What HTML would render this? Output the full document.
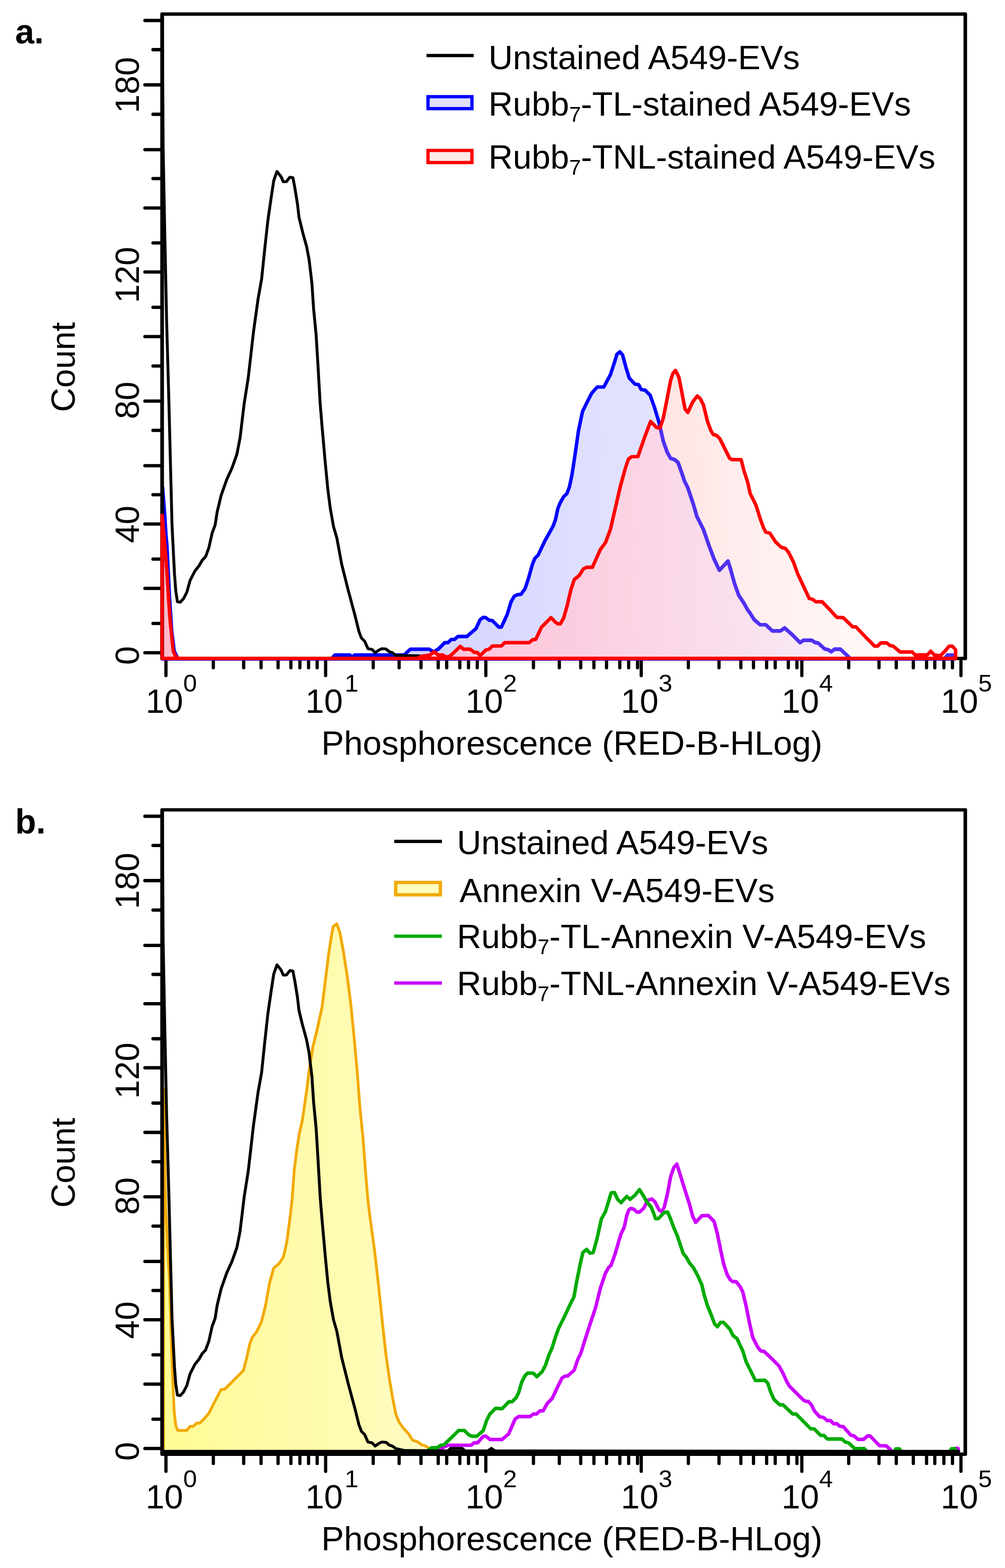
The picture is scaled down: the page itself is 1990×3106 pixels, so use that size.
<!DOCTYPE html>
<html lang="en"><head><meta charset="utf-8"><title>Flow cytometry histograms</title>
<style>html,body{margin:0;padding:0;background:#fff}svg{display:block}text{font-family:'Liberation Sans', sans-serif;fill:#000}</style>
</head><body>
<svg width="1990" height="3106" viewBox="0 0 1990 3106">
<defs>
<linearGradient id="gredw" gradientUnits="userSpaceOnUse" x1="320" y1="0" x2="1900" y2="0"><stop offset="0.0000" stop-color="#ffb9b9"/><stop offset="0.3671" stop-color="#ffcdd0"/><stop offset="0.5570" stop-color="#ffdcdc"/><stop offset="0.6835" stop-color="#ffeae8"/><stop offset="0.7152" stop-color="#ffecec"/><stop offset="0.8418" stop-color="#fff6f4"/><stop offset="0.9367" stop-color="#fffafa"/><stop offset="1.0000" stop-color="#fffdfd"/></linearGradient>
<linearGradient id="gredo" gradientUnits="userSpaceOnUse" x1="320" y1="0" x2="1900" y2="0"><stop offset="0.0000" stop-color="#ffb9c8"/><stop offset="0.3671" stop-color="#fdc4d8"/><stop offset="0.4304" stop-color="#fec8dc"/><stop offset="0.5152" stop-color="#fbcde0"/><stop offset="0.5848" stop-color="#fbd4e4"/><stop offset="0.6835" stop-color="#fadcea"/><stop offset="0.7468" stop-color="#f9e2f0"/><stop offset="0.8418" stop-color="#f8ecf8"/><stop offset="1.0000" stop-color="#faf4fc"/></linearGradient>
<linearGradient id="gblue" gradientUnits="userSpaceOnUse" x1="320" y1="0" x2="1900" y2="0"><stop offset="0.0000" stop-color="#c8c8ff"/><stop offset="0.3038" stop-color="#d3d3ff"/><stop offset="0.4304" stop-color="#d9d9ff"/><stop offset="0.5570" stop-color="#e0e0ff"/><stop offset="0.6835" stop-color="#e6e6ff"/><stop offset="0.8608" stop-color="#eeeeff"/><stop offset="1.0000" stop-color="#f4f4ff"/></linearGradient>
<linearGradient id="gyel" gradientUnits="userSpaceOnUse" x1="320" y1="0" x2="860" y2="0"><stop offset="0.0000" stop-color="#fffc92"/><stop offset="0.0556" stop-color="#fffc96"/><stop offset="0.3333" stop-color="#fffba4"/><stop offset="0.7037" stop-color="#fffbb2"/><stop offset="1.0000" stop-color="#fffcc8"/></linearGradient>
</defs>
<rect width="1990" height="3106" fill="#fff"/>
<g id="panel-a">
<g stroke="#000" stroke-linecap="round" fill="none">
<line x1="287" y1="40.6" x2="321.0" y2="40.6" stroke-width="6.6"/>
<line x1="287" y1="168.1" x2="321.0" y2="168.1" stroke-width="6.6"/>
<line x1="287" y1="296.5" x2="321.0" y2="296.5" stroke-width="6.6"/>
<line x1="287" y1="412.0" x2="321.0" y2="412.0" stroke-width="6.6"/>
<line x1="287" y1="538.8" x2="321.0" y2="538.8" stroke-width="6.6"/>
<line x1="287" y1="666.8" x2="321.0" y2="666.8" stroke-width="6.6"/>
<line x1="287" y1="794.5" x2="321.0" y2="794.5" stroke-width="6.6"/>
<line x1="287" y1="922.5" x2="321.0" y2="922.5" stroke-width="6.6"/>
<line x1="287" y1="1038.0" x2="321.0" y2="1038.0" stroke-width="6.6"/>
<line x1="287" y1="1165.5" x2="321.0" y2="1165.5" stroke-width="6.6"/>
<line x1="287" y1="1293.0" x2="321.0" y2="1293.0" stroke-width="6.6"/>
<line x1="303" y1="98.4" x2="321.0" y2="98.4" stroke-width="6.6"/>
<line x1="303" y1="226.4" x2="321.0" y2="226.4" stroke-width="6.6"/>
<line x1="303" y1="353.8" x2="321.0" y2="353.8" stroke-width="6.6"/>
<line x1="303" y1="481.2" x2="321.0" y2="481.2" stroke-width="6.6"/>
<line x1="303" y1="608.8" x2="321.0" y2="608.8" stroke-width="6.6"/>
<line x1="303" y1="725.0" x2="321.0" y2="725.0" stroke-width="6.6"/>
<line x1="303" y1="852.5" x2="321.0" y2="852.5" stroke-width="6.6"/>
<line x1="303" y1="980.0" x2="321.0" y2="980.0" stroke-width="6.6"/>
<line x1="303" y1="1107.5" x2="321.0" y2="1107.5" stroke-width="6.6"/>
<line x1="303" y1="1235.0" x2="321.0" y2="1235.0" stroke-width="6.6"/>
<line x1="328.6" y1="1304.3" x2="328.6" y2="1338.3" stroke-width="6.4"/>
<line x1="644.8" y1="1304.3" x2="644.8" y2="1338.3" stroke-width="6.4"/>
<line x1="962" y1="1304.3" x2="962" y2="1338.3" stroke-width="6.4"/>
<line x1="1269.7" y1="1304.3" x2="1269.7" y2="1338.3" stroke-width="6.4"/>
<line x1="1587.7" y1="1304.3" x2="1587.7" y2="1338.3" stroke-width="6.4"/>
<line x1="1902.8" y1="1304.3" x2="1902.8" y2="1338.3" stroke-width="6.4"/>
<line x1="422.4" y1="1304.3" x2="422.4" y2="1322.8" stroke-width="6.4"/>
<line x1="482.5" y1="1304.3" x2="482.5" y2="1322.8" stroke-width="6.4"/>
<line x1="516.9" y1="1304.3" x2="516.9" y2="1322.8" stroke-width="6.4"/>
<line x1="550.6" y1="1304.3" x2="550.6" y2="1322.8" stroke-width="6.4"/>
<line x1="576" y1="1304.3" x2="576" y2="1322.8" stroke-width="6.4"/>
<line x1="593.8" y1="1304.3" x2="593.8" y2="1322.8" stroke-width="6.4"/>
<line x1="611" y1="1304.3" x2="611" y2="1322.8" stroke-width="6.4"/>
<line x1="628" y1="1304.3" x2="628" y2="1322.8" stroke-width="6.4"/>
<line x1="739" y1="1304.3" x2="739" y2="1322.8" stroke-width="6.4"/>
<line x1="790.3" y1="1304.3" x2="790.3" y2="1322.8" stroke-width="6.4"/>
<line x1="833.6" y1="1304.3" x2="833.6" y2="1322.8" stroke-width="6.4"/>
<line x1="867.7" y1="1304.3" x2="867.7" y2="1322.8" stroke-width="6.4"/>
<line x1="884.5" y1="1304.3" x2="884.5" y2="1322.8" stroke-width="6.4"/>
<line x1="910.5" y1="1304.3" x2="910.5" y2="1322.8" stroke-width="6.4"/>
<line x1="927.7" y1="1304.3" x2="927.7" y2="1322.8" stroke-width="6.4"/>
<line x1="945" y1="1304.3" x2="945" y2="1322.8" stroke-width="6.4"/>
<line x1="1056.3" y1="1304.3" x2="1056.3" y2="1322.8" stroke-width="6.4"/>
<line x1="1107.5" y1="1304.3" x2="1107.5" y2="1322.8" stroke-width="6.4"/>
<line x1="1149.9" y1="1304.3" x2="1149.9" y2="1322.8" stroke-width="6.4"/>
<line x1="1176" y1="1304.3" x2="1176" y2="1322.8" stroke-width="6.4"/>
<line x1="1201" y1="1304.3" x2="1201" y2="1322.8" stroke-width="6.4"/>
<line x1="1227.3" y1="1304.3" x2="1227.3" y2="1322.8" stroke-width="6.4"/>
<line x1="1244.8" y1="1304.3" x2="1244.8" y2="1322.8" stroke-width="6.4"/>
<line x1="1262.4" y1="1304.3" x2="1262.4" y2="1322.8" stroke-width="6.4"/>
<line x1="1363" y1="1304.3" x2="1363" y2="1322.8" stroke-width="6.4"/>
<line x1="1423.7" y1="1304.3" x2="1423.7" y2="1322.8" stroke-width="6.4"/>
<line x1="1467" y1="1304.3" x2="1467" y2="1322.8" stroke-width="6.4"/>
<line x1="1492" y1="1304.3" x2="1492" y2="1322.8" stroke-width="6.4"/>
<line x1="1518" y1="1304.3" x2="1518" y2="1322.8" stroke-width="6.4"/>
<line x1="1535" y1="1304.3" x2="1535" y2="1322.8" stroke-width="6.4"/>
<line x1="1561" y1="1304.3" x2="1561" y2="1322.8" stroke-width="6.4"/>
<line x1="1578" y1="1304.3" x2="1578" y2="1322.8" stroke-width="6.4"/>
<line x1="1680.5" y1="1304.3" x2="1680.5" y2="1322.8" stroke-width="6.4"/>
<line x1="1740.5" y1="1304.3" x2="1740.5" y2="1322.8" stroke-width="6.4"/>
<line x1="1774.7" y1="1304.3" x2="1774.7" y2="1322.8" stroke-width="6.4"/>
<line x1="1808.5" y1="1304.3" x2="1808.5" y2="1322.8" stroke-width="6.4"/>
<line x1="1834.7" y1="1304.3" x2="1834.7" y2="1322.8" stroke-width="6.4"/>
<line x1="1851" y1="1304.3" x2="1851" y2="1322.8" stroke-width="6.4"/>
<line x1="1869" y1="1304.3" x2="1869" y2="1322.8" stroke-width="6.4"/>
<line x1="1886" y1="1304.3" x2="1886" y2="1322.8" stroke-width="6.4"/>
</g>
<clipPath id="cblue"><polygon points="321.0,1305.3 322.0,966.0 326.0,1018.0 328.6,1059.5 330.5,1080.0 335.5,1180.0 340.0,1250.0 345.0,1290.0 351.0,1302.0 355.0,1305.3 656.0,1305.3 663.0,1297.5 693.0,1297.5 697.0,1302.0 702.0,1297.5 800.0,1297.5 812.5,1286.0 849.8,1286.0 858.0,1291.0 867.7,1286.0 880.6,1273.0 887.0,1273.0 893.6,1266.6 900.0,1266.6 906.6,1260.8 924.5,1260.8 932.6,1253.6 942.3,1245.5 950.5,1227.7 957.0,1222.8 961.8,1223.4 968.3,1228.3 974.8,1229.3 981.3,1235.8 987.8,1242.3 992.7,1242.3 1004.0,1218.0 1012.0,1192.0 1018.6,1180.6 1025.0,1178.0 1031.6,1177.3 1039.7,1166.0 1046.2,1146.5 1054.4,1117.3 1059.2,1105.9 1065.7,1099.4 1078.7,1071.8 1095.0,1042.6 1099.8,1029.6 1104.7,1006.9 1109.5,995.5 1116.0,984.0 1122.5,977.7 1127.4,964.7 1132.3,942.0 1138.8,899.7 1145.3,854.3 1153.4,815.3 1163.0,795.8 1171.2,779.6 1182.6,766.6 1195.6,766.6 1208.6,742.3 1216.7,717.9 1221.6,701.7 1227.4,696.8 1232.9,703.3 1239.4,727.7 1245.9,748.8 1257.3,760.8 1264.6,761.8 1269.5,771.5 1277.6,773.0 1287.3,782.9 1295.5,805.6 1305.2,838.0 1313.3,873.8 1321.4,896.5 1327.9,907.9 1336.0,910.5 1342.5,916.0 1350.6,938.7 1355.5,953.3 1362.0,966.3 1373.4,1000.4 1379.9,1023.0 1392.9,1049.0 1404.2,1081.6 1414.0,1107.5 1424.4,1129.6 1441.6,1111.4 1446.4,1127.0 1454.5,1156.2 1462.7,1179.0 1472.4,1193.6 1480.5,1208.2 1485.4,1214.7 1493.5,1227.7 1504.9,1237.4 1516.2,1237.4 1529.2,1249.7 1545.5,1249.7 1553.6,1243.9 1566.6,1255.3 1584.4,1273.0 1590.9,1268.2 1607.0,1268.2 1613.6,1272.5 1620.0,1273.8 1633.0,1285.5 1639.6,1286.8 1646.0,1291.0 1652.6,1286.0 1664.0,1286.0 1680.0,1300.7 1684.0,1305.3 1870.0,1305.3 1876.0,1297.5 1887.0,1297.5 1891.0,1305.3"/></clipPath>
<clipPath id="cred"><polygon points="321.0,1304.3 321.0,1021.0 325.5,1070.0 330.0,1125.0 334.5,1195.0 337.0,1230.0 340.5,1265.0 343.2,1290.0 347.0,1299.0 353.0,1304.3 826.0,1304.3 835.2,1300.0 851.4,1297.5 859.5,1291.0 867.7,1297.5 877.4,1297.5 883.9,1302.0 892.0,1299.0 911.5,1280.3 918.0,1286.0 931.0,1286.0 939.0,1292.0 945.6,1292.6 950.5,1299.0 961.8,1287.7 968.3,1286.0 974.8,1279.6 992.7,1279.6 999.2,1273.0 1047.9,1273.0 1054.4,1267.3 1060.8,1266.6 1072.2,1242.3 1083.6,1231.0 1091.0,1223.4 1099.8,1232.5 1104.7,1235.8 1109.5,1235.8 1116.0,1224.4 1122.5,1201.7 1130.6,1167.6 1137.1,1148.0 1146.9,1140.0 1155.0,1127.0 1161.5,1123.8 1172.9,1123.8 1189.0,1088.0 1198.8,1075.0 1208.6,1049.0 1218.3,1006.9 1228.0,964.7 1237.8,929.0 1244.3,909.5 1250.8,904.6 1263.0,904.6 1276.0,867.3 1288.3,834.8 1300.3,847.0 1306.8,847.8 1313.3,828.3 1319.8,795.8 1327.9,753.6 1332.8,739.0 1337.7,734.0 1344.2,747.0 1350.6,779.6 1356.5,810.5 1362.0,817.0 1371.8,795.8 1380.5,784.5 1386.4,789.4 1392.9,802.3 1401.0,834.8 1407.5,852.7 1412.3,860.8 1418.8,862.4 1425.3,868.9 1435.0,888.4 1444.8,907.9 1449.7,910.5 1467.5,910.5 1474.0,935.5 1480.5,955.0 1485.4,977.7 1496.8,1000.4 1504.9,1026.4 1511.4,1044.2 1516.2,1054.0 1524.4,1056.2 1535.7,1073.4 1547.0,1084.2 1555.2,1086.4 1561.7,1094.5 1571.4,1114.0 1579.5,1136.8 1590.9,1161.0 1602.3,1185.5 1608.8,1187.0 1615.3,1192.0 1627.9,1192.0 1643.0,1207.7 1657.0,1222.8 1669.6,1223.4 1688.6,1241.8 1695.0,1241.8 1714.0,1262.0 1731.7,1279.8 1738.0,1279.8 1744.3,1273.5 1755.7,1273.5 1762.0,1278.6 1768.4,1279.8 1782.3,1291.5 1806.4,1291.5 1811.6,1297.3 1836.0,1297.3 1843.0,1290.0 1850.0,1297.3 1862.0,1298.8 1871.0,1290.0 1879.3,1280.0 1885.8,1280.0 1892.2,1287.0 1892.2,1304.3"/></clipPath>
<polygon points="321.0,1305.3 322.0,966.0 326.0,1018.0 328.6,1059.5 330.5,1080.0 335.5,1180.0 340.0,1250.0 345.0,1290.0 351.0,1302.0 355.0,1305.3 656.0,1305.3 663.0,1297.5 693.0,1297.5 697.0,1302.0 702.0,1297.5 800.0,1297.5 812.5,1286.0 849.8,1286.0 858.0,1291.0 867.7,1286.0 880.6,1273.0 887.0,1273.0 893.6,1266.6 900.0,1266.6 906.6,1260.8 924.5,1260.8 932.6,1253.6 942.3,1245.5 950.5,1227.7 957.0,1222.8 961.8,1223.4 968.3,1228.3 974.8,1229.3 981.3,1235.8 987.8,1242.3 992.7,1242.3 1004.0,1218.0 1012.0,1192.0 1018.6,1180.6 1025.0,1178.0 1031.6,1177.3 1039.7,1166.0 1046.2,1146.5 1054.4,1117.3 1059.2,1105.9 1065.7,1099.4 1078.7,1071.8 1095.0,1042.6 1099.8,1029.6 1104.7,1006.9 1109.5,995.5 1116.0,984.0 1122.5,977.7 1127.4,964.7 1132.3,942.0 1138.8,899.7 1145.3,854.3 1153.4,815.3 1163.0,795.8 1171.2,779.6 1182.6,766.6 1195.6,766.6 1208.6,742.3 1216.7,717.9 1221.6,701.7 1227.4,696.8 1232.9,703.3 1239.4,727.7 1245.9,748.8 1257.3,760.8 1264.6,761.8 1269.5,771.5 1277.6,773.0 1287.3,782.9 1295.5,805.6 1305.2,838.0 1313.3,873.8 1321.4,896.5 1327.9,907.9 1336.0,910.5 1342.5,916.0 1350.6,938.7 1355.5,953.3 1362.0,966.3 1373.4,1000.4 1379.9,1023.0 1392.9,1049.0 1404.2,1081.6 1414.0,1107.5 1424.4,1129.6 1441.6,1111.4 1446.4,1127.0 1454.5,1156.2 1462.7,1179.0 1472.4,1193.6 1480.5,1208.2 1485.4,1214.7 1493.5,1227.7 1504.9,1237.4 1516.2,1237.4 1529.2,1249.7 1545.5,1249.7 1553.6,1243.9 1566.6,1255.3 1584.4,1273.0 1590.9,1268.2 1607.0,1268.2 1613.6,1272.5 1620.0,1273.8 1633.0,1285.5 1639.6,1286.8 1646.0,1291.0 1652.6,1286.0 1664.0,1286.0 1680.0,1300.7 1684.0,1305.3 1870.0,1305.3 1876.0,1297.5 1887.0,1297.5 1891.0,1305.3" fill="url(#gblue)" stroke="none"/>
<polygon points="321.0,1304.3 321.0,1021.0 325.5,1070.0 330.0,1125.0 334.5,1195.0 337.0,1230.0 340.5,1265.0 343.2,1290.0 347.0,1299.0 353.0,1304.3 826.0,1304.3 835.2,1300.0 851.4,1297.5 859.5,1291.0 867.7,1297.5 877.4,1297.5 883.9,1302.0 892.0,1299.0 911.5,1280.3 918.0,1286.0 931.0,1286.0 939.0,1292.0 945.6,1292.6 950.5,1299.0 961.8,1287.7 968.3,1286.0 974.8,1279.6 992.7,1279.6 999.2,1273.0 1047.9,1273.0 1054.4,1267.3 1060.8,1266.6 1072.2,1242.3 1083.6,1231.0 1091.0,1223.4 1099.8,1232.5 1104.7,1235.8 1109.5,1235.8 1116.0,1224.4 1122.5,1201.7 1130.6,1167.6 1137.1,1148.0 1146.9,1140.0 1155.0,1127.0 1161.5,1123.8 1172.9,1123.8 1189.0,1088.0 1198.8,1075.0 1208.6,1049.0 1218.3,1006.9 1228.0,964.7 1237.8,929.0 1244.3,909.5 1250.8,904.6 1263.0,904.6 1276.0,867.3 1288.3,834.8 1300.3,847.0 1306.8,847.8 1313.3,828.3 1319.8,795.8 1327.9,753.6 1332.8,739.0 1337.7,734.0 1344.2,747.0 1350.6,779.6 1356.5,810.5 1362.0,817.0 1371.8,795.8 1380.5,784.5 1386.4,789.4 1392.9,802.3 1401.0,834.8 1407.5,852.7 1412.3,860.8 1418.8,862.4 1425.3,868.9 1435.0,888.4 1444.8,907.9 1449.7,910.5 1467.5,910.5 1474.0,935.5 1480.5,955.0 1485.4,977.7 1496.8,1000.4 1504.9,1026.4 1511.4,1044.2 1516.2,1054.0 1524.4,1056.2 1535.7,1073.4 1547.0,1084.2 1555.2,1086.4 1561.7,1094.5 1571.4,1114.0 1579.5,1136.8 1590.9,1161.0 1602.3,1185.5 1608.8,1187.0 1615.3,1192.0 1627.9,1192.0 1643.0,1207.7 1657.0,1222.8 1669.6,1223.4 1688.6,1241.8 1695.0,1241.8 1714.0,1262.0 1731.7,1279.8 1738.0,1279.8 1744.3,1273.5 1755.7,1273.5 1762.0,1278.6 1768.4,1279.8 1782.3,1291.5 1806.4,1291.5 1811.6,1297.3 1836.0,1297.3 1843.0,1290.0 1850.0,1297.3 1862.0,1298.8 1871.0,1290.0 1879.3,1280.0 1885.8,1280.0 1892.2,1287.0 1892.2,1304.3" fill="url(#gredw)" stroke="none"/>
<polygon points="321.0,1304.3 321.0,1021.0 325.5,1070.0 330.0,1125.0 334.5,1195.0 337.0,1230.0 340.5,1265.0 343.2,1290.0 347.0,1299.0 353.0,1304.3 826.0,1304.3 835.2,1300.0 851.4,1297.5 859.5,1291.0 867.7,1297.5 877.4,1297.5 883.9,1302.0 892.0,1299.0 911.5,1280.3 918.0,1286.0 931.0,1286.0 939.0,1292.0 945.6,1292.6 950.5,1299.0 961.8,1287.7 968.3,1286.0 974.8,1279.6 992.7,1279.6 999.2,1273.0 1047.9,1273.0 1054.4,1267.3 1060.8,1266.6 1072.2,1242.3 1083.6,1231.0 1091.0,1223.4 1099.8,1232.5 1104.7,1235.8 1109.5,1235.8 1116.0,1224.4 1122.5,1201.7 1130.6,1167.6 1137.1,1148.0 1146.9,1140.0 1155.0,1127.0 1161.5,1123.8 1172.9,1123.8 1189.0,1088.0 1198.8,1075.0 1208.6,1049.0 1218.3,1006.9 1228.0,964.7 1237.8,929.0 1244.3,909.5 1250.8,904.6 1263.0,904.6 1276.0,867.3 1288.3,834.8 1300.3,847.0 1306.8,847.8 1313.3,828.3 1319.8,795.8 1327.9,753.6 1332.8,739.0 1337.7,734.0 1344.2,747.0 1350.6,779.6 1356.5,810.5 1362.0,817.0 1371.8,795.8 1380.5,784.5 1386.4,789.4 1392.9,802.3 1401.0,834.8 1407.5,852.7 1412.3,860.8 1418.8,862.4 1425.3,868.9 1435.0,888.4 1444.8,907.9 1449.7,910.5 1467.5,910.5 1474.0,935.5 1480.5,955.0 1485.4,977.7 1496.8,1000.4 1504.9,1026.4 1511.4,1044.2 1516.2,1054.0 1524.4,1056.2 1535.7,1073.4 1547.0,1084.2 1555.2,1086.4 1561.7,1094.5 1571.4,1114.0 1579.5,1136.8 1590.9,1161.0 1602.3,1185.5 1608.8,1187.0 1615.3,1192.0 1627.9,1192.0 1643.0,1207.7 1657.0,1222.8 1669.6,1223.4 1688.6,1241.8 1695.0,1241.8 1714.0,1262.0 1731.7,1279.8 1738.0,1279.8 1744.3,1273.5 1755.7,1273.5 1762.0,1278.6 1768.4,1279.8 1782.3,1291.5 1806.4,1291.5 1811.6,1297.3 1836.0,1297.3 1843.0,1290.0 1850.0,1297.3 1862.0,1298.8 1871.0,1290.0 1879.3,1280.0 1885.8,1280.0 1892.2,1287.0 1892.2,1304.3" fill="url(#gredo)" stroke="none" clip-path="url(#cblue)"/>
<polygon points="321.0,1305.3 322.0,966.0 326.0,1018.0 328.6,1059.5 330.5,1080.0 335.5,1180.0 340.0,1250.0 345.0,1290.0 351.0,1302.0 355.0,1305.3 656.0,1305.3 663.0,1297.5 693.0,1297.5 697.0,1302.0 702.0,1297.5 800.0,1297.5 812.5,1286.0 849.8,1286.0 858.0,1291.0 867.7,1286.0 880.6,1273.0 887.0,1273.0 893.6,1266.6 900.0,1266.6 906.6,1260.8 924.5,1260.8 932.6,1253.6 942.3,1245.5 950.5,1227.7 957.0,1222.8 961.8,1223.4 968.3,1228.3 974.8,1229.3 981.3,1235.8 987.8,1242.3 992.7,1242.3 1004.0,1218.0 1012.0,1192.0 1018.6,1180.6 1025.0,1178.0 1031.6,1177.3 1039.7,1166.0 1046.2,1146.5 1054.4,1117.3 1059.2,1105.9 1065.7,1099.4 1078.7,1071.8 1095.0,1042.6 1099.8,1029.6 1104.7,1006.9 1109.5,995.5 1116.0,984.0 1122.5,977.7 1127.4,964.7 1132.3,942.0 1138.8,899.7 1145.3,854.3 1153.4,815.3 1163.0,795.8 1171.2,779.6 1182.6,766.6 1195.6,766.6 1208.6,742.3 1216.7,717.9 1221.6,701.7 1227.4,696.8 1232.9,703.3 1239.4,727.7 1245.9,748.8 1257.3,760.8 1264.6,761.8 1269.5,771.5 1277.6,773.0 1287.3,782.9 1295.5,805.6 1305.2,838.0 1313.3,873.8 1321.4,896.5 1327.9,907.9 1336.0,910.5 1342.5,916.0 1350.6,938.7 1355.5,953.3 1362.0,966.3 1373.4,1000.4 1379.9,1023.0 1392.9,1049.0 1404.2,1081.6 1414.0,1107.5 1424.4,1129.6 1441.6,1111.4 1446.4,1127.0 1454.5,1156.2 1462.7,1179.0 1472.4,1193.6 1480.5,1208.2 1485.4,1214.7 1493.5,1227.7 1504.9,1237.4 1516.2,1237.4 1529.2,1249.7 1545.5,1249.7 1553.6,1243.9 1566.6,1255.3 1584.4,1273.0 1590.9,1268.2 1607.0,1268.2 1613.6,1272.5 1620.0,1273.8 1633.0,1285.5 1639.6,1286.8 1646.0,1291.0 1652.6,1286.0 1664.0,1286.0 1680.0,1300.7 1684.0,1305.3 1870.0,1305.3 1876.0,1297.5 1887.0,1297.5 1891.0,1305.3" fill="none" stroke="#0000ff" stroke-width="6.9" stroke-linejoin="round"/>
<polygon points="321.0,1305.3 322.0,966.0 326.0,1018.0 328.6,1059.5 330.5,1080.0 335.5,1180.0 340.0,1250.0 345.0,1290.0 351.0,1302.0 355.0,1305.3 656.0,1305.3 663.0,1297.5 693.0,1297.5 697.0,1302.0 702.0,1297.5 800.0,1297.5 812.5,1286.0 849.8,1286.0 858.0,1291.0 867.7,1286.0 880.6,1273.0 887.0,1273.0 893.6,1266.6 900.0,1266.6 906.6,1260.8 924.5,1260.8 932.6,1253.6 942.3,1245.5 950.5,1227.7 957.0,1222.8 961.8,1223.4 968.3,1228.3 974.8,1229.3 981.3,1235.8 987.8,1242.3 992.7,1242.3 1004.0,1218.0 1012.0,1192.0 1018.6,1180.6 1025.0,1178.0 1031.6,1177.3 1039.7,1166.0 1046.2,1146.5 1054.4,1117.3 1059.2,1105.9 1065.7,1099.4 1078.7,1071.8 1095.0,1042.6 1099.8,1029.6 1104.7,1006.9 1109.5,995.5 1116.0,984.0 1122.5,977.7 1127.4,964.7 1132.3,942.0 1138.8,899.7 1145.3,854.3 1153.4,815.3 1163.0,795.8 1171.2,779.6 1182.6,766.6 1195.6,766.6 1208.6,742.3 1216.7,717.9 1221.6,701.7 1227.4,696.8 1232.9,703.3 1239.4,727.7 1245.9,748.8 1257.3,760.8 1264.6,761.8 1269.5,771.5 1277.6,773.0 1287.3,782.9 1295.5,805.6 1305.2,838.0 1313.3,873.8 1321.4,896.5 1327.9,907.9 1336.0,910.5 1342.5,916.0 1350.6,938.7 1355.5,953.3 1362.0,966.3 1373.4,1000.4 1379.9,1023.0 1392.9,1049.0 1404.2,1081.6 1414.0,1107.5 1424.4,1129.6 1441.6,1111.4 1446.4,1127.0 1454.5,1156.2 1462.7,1179.0 1472.4,1193.6 1480.5,1208.2 1485.4,1214.7 1493.5,1227.7 1504.9,1237.4 1516.2,1237.4 1529.2,1249.7 1545.5,1249.7 1553.6,1243.9 1566.6,1255.3 1584.4,1273.0 1590.9,1268.2 1607.0,1268.2 1613.6,1272.5 1620.0,1273.8 1633.0,1285.5 1639.6,1286.8 1646.0,1291.0 1652.6,1286.0 1664.0,1286.0 1680.0,1300.7 1684.0,1305.3 1870.0,1305.3 1876.0,1297.5 1887.0,1297.5 1891.0,1305.3" fill="none" stroke="#5030f0" stroke-width="6.9" stroke-linejoin="round" clip-path="url(#cred)"/>
<rect x="321.0" y="27.9" width="1590.3" height="1276.4" fill="none" stroke="#000" stroke-width="6.6" stroke-linejoin="round"/>
<line x1="321.0" y1="27.9" x2="321.0" y2="1304.3" stroke="#000" stroke-width="7.0" stroke-linecap="round"/>
<line x1="1911.3" y1="27.9" x2="1911.3" y2="1304.3" stroke="#000" stroke-width="7.0" stroke-linecap="round"/>
<polyline points="321.5,28.0 323.0,292.0 326.0,450.0 330.0,640.0 334.0,780.0 337.3,910.0 340.6,1040.0 345.5,1137.0 348.0,1170.0 351.3,1192.0 356.8,1193.0 363.3,1186.0 370.0,1173.0 376.3,1150.0 386.0,1131.0 394.0,1121.0 400.6,1109.5 407.0,1103.0 413.6,1085.0 420.0,1056.0 426.0,1040.0 430.0,1014.0 438.0,981.0 449.3,949.0 459.0,928.0 469.0,900.0 475.3,867.6 480.0,828.7 483.4,800.0 491.6,748.0 502.0,657.0 511.0,592.0 518.0,553.0 524.0,495.0 530.5,436.0 537.0,391.0 542.0,358.0 548.4,339.6 556.5,350.0 561.0,360.0 567.0,360.0 574.0,351.0 580.0,352.0 584.0,373.0 589.0,404.0 592.0,430.0 599.0,459.0 607.0,488.0 612.0,514.0 617.5,560.0 621.0,612.0 626.0,664.0 629.5,722.0 634.0,800.0 637.7,845.0 644.0,916.0 649.0,968.0 654.0,1007.0 660.4,1043.0 667.0,1065.7 676.6,1117.7 689.6,1169.6 702.6,1218.0 710.7,1250.8 715.6,1263.8 722.0,1270.0 728.6,1285.0 736.7,1286.5 743.0,1293.0 749.7,1288.0 756.0,1285.0 764.3,1285.5 770.8,1291.0 777.0,1293.0 783.8,1298.0 800.0,1298.5 830.0,1299.0" fill="none" stroke="#000" stroke-width="5.7" stroke-linejoin="round" stroke-linecap="round"/>
<polygon points="321.0,1304.3 321.0,1021.0 325.5,1070.0 330.0,1125.0 334.5,1195.0 337.0,1230.0 340.5,1265.0 343.2,1290.0 347.0,1299.0 353.0,1304.3 826.0,1304.3 835.2,1300.0 851.4,1297.5 859.5,1291.0 867.7,1297.5 877.4,1297.5 883.9,1302.0 892.0,1299.0 911.5,1280.3 918.0,1286.0 931.0,1286.0 939.0,1292.0 945.6,1292.6 950.5,1299.0 961.8,1287.7 968.3,1286.0 974.8,1279.6 992.7,1279.6 999.2,1273.0 1047.9,1273.0 1054.4,1267.3 1060.8,1266.6 1072.2,1242.3 1083.6,1231.0 1091.0,1223.4 1099.8,1232.5 1104.7,1235.8 1109.5,1235.8 1116.0,1224.4 1122.5,1201.7 1130.6,1167.6 1137.1,1148.0 1146.9,1140.0 1155.0,1127.0 1161.5,1123.8 1172.9,1123.8 1189.0,1088.0 1198.8,1075.0 1208.6,1049.0 1218.3,1006.9 1228.0,964.7 1237.8,929.0 1244.3,909.5 1250.8,904.6 1263.0,904.6 1276.0,867.3 1288.3,834.8 1300.3,847.0 1306.8,847.8 1313.3,828.3 1319.8,795.8 1327.9,753.6 1332.8,739.0 1337.7,734.0 1344.2,747.0 1350.6,779.6 1356.5,810.5 1362.0,817.0 1371.8,795.8 1380.5,784.5 1386.4,789.4 1392.9,802.3 1401.0,834.8 1407.5,852.7 1412.3,860.8 1418.8,862.4 1425.3,868.9 1435.0,888.4 1444.8,907.9 1449.7,910.5 1467.5,910.5 1474.0,935.5 1480.5,955.0 1485.4,977.7 1496.8,1000.4 1504.9,1026.4 1511.4,1044.2 1516.2,1054.0 1524.4,1056.2 1535.7,1073.4 1547.0,1084.2 1555.2,1086.4 1561.7,1094.5 1571.4,1114.0 1579.5,1136.8 1590.9,1161.0 1602.3,1185.5 1608.8,1187.0 1615.3,1192.0 1627.9,1192.0 1643.0,1207.7 1657.0,1222.8 1669.6,1223.4 1688.6,1241.8 1695.0,1241.8 1714.0,1262.0 1731.7,1279.8 1738.0,1279.8 1744.3,1273.5 1755.7,1273.5 1762.0,1278.6 1768.4,1279.8 1782.3,1291.5 1806.4,1291.5 1811.6,1297.3 1836.0,1297.3 1843.0,1290.0 1850.0,1297.3 1862.0,1298.8 1871.0,1290.0 1879.3,1280.0 1885.8,1280.0 1892.2,1287.0 1892.2,1304.3" fill="none" stroke="#ff0000" stroke-width="6.9" stroke-linejoin="round"/>
<text x="325.6" y="1412.0" font-size="66.8" text-anchor="middle">10</text>
<text x="362.8" y="1369.6" font-size="49">0</text>
<text x="641.8" y="1412.0" font-size="66.8" text-anchor="middle">10</text>
<text x="682.5" y="1369.6" font-size="49">1</text>
<text x="959.0" y="1412.0" font-size="66.8" text-anchor="middle">10</text>
<text x="996.2" y="1369.6" font-size="49">2</text>
<text x="1266.7" y="1412.0" font-size="66.8" text-anchor="middle">10</text>
<text x="1303.9" y="1369.6" font-size="49">3</text>
<text x="1584.7" y="1412.0" font-size="66.8" text-anchor="middle">10</text>
<text x="1621.9" y="1369.6" font-size="49">4</text>
<text x="1899.8" y="1412.0" font-size="66.8" text-anchor="middle">10</text>
<text x="1937.0" y="1369.6" font-size="49">5</text>
<text transform="translate(274.5,1298.5) rotate(-90)" font-size="66.8" text-anchor="middle">0</text>
<text transform="translate(274.5,1038.7) rotate(-90)" font-size="66.8" text-anchor="middle">40</text>
<text transform="translate(274.5,793.0) rotate(-90)" font-size="66.8" text-anchor="middle">80</text>
<text transform="translate(274.5,544.5) rotate(-90)" font-size="66.8" text-anchor="middle">120</text>
<text transform="translate(274.5,168.5) rotate(-90)" font-size="66.8" text-anchor="middle">180</text>
<text transform="translate(148,727.0) rotate(-90)" font-size="66.8" text-anchor="middle">Count</text>
<text x="636.3" y="1494.5" font-size="67.1">Phosphorescence (RED-B-HLog)</text>
<line x1="844.5" y1="109.9" x2="938" y2="109.9" stroke="#000" stroke-width="6.5"/>
<rect x="847.5" y="191.5" width="87" height="23.7" fill="#dfdffc" stroke="#0000ff" stroke-width="6.5"/>
<rect x="847.5" y="298" width="87" height="24" fill="#ffe9e9" stroke="#ff0000" stroke-width="6.5"/>
<text x="967.3" y="137.2" font-size="66.8">Unstained A549-EVs</text>
<text x="967.3" y="228.9" font-size="66.8">Rubb<tspan font-size="42" dy="12">7</tspan><tspan dy="-12">-TL-stained A549-EVs</tspan></text>
<text x="967.3" y="334.1" font-size="66.8">Rubb<tspan font-size="42" dy="12">7</tspan><tspan dy="-12">-TNL-stained A549-EVs</tspan></text>
<text x="30" y="86" font-size="68" font-weight="bold">a.</text>
</g>
<g id="panel-b">
<polygon points="323.5,2877.0 323.5,2158.0 326.0,2280.0 328.5,2400.0 332.0,2470.0 335.7,2535.0 340.6,2697.0 344.8,2794.5 348.0,2823.8 352.0,2833.5 369.8,2833.5 376.3,2825.4 382.8,2825.4 389.3,2818.9 395.8,2818.9 403.9,2810.8 413.6,2799.4 423.4,2779.9 438.0,2752.3 444.5,2752.3 462.3,2734.5 481.8,2715.0 488.3,2690.6 494.8,2661.4 499.7,2648.4 507.8,2638.7 517.5,2619.2 525.6,2586.8 533.8,2541.3 541.9,2512.0 553.2,2502.3 561.4,2489.4 567.9,2460.0 574.4,2411.4 578.5,2375.0 582.5,2319.5 587.3,2280.5 592.2,2248.0 598.7,2218.8 606.8,2163.6 613.3,2111.7 619.8,2072.7 627.9,2040.0 637.7,1994.8 644.2,1942.9 650.6,1890.9 655.5,1858.4 659.7,1835.7 666.9,1829.9 673.4,1848.7 679.9,1884.4 688.0,1936.4 694.5,1988.3 701.0,2053.0 707.5,2124.7 712.3,2189.6 718.8,2254.5 723.7,2319.5 728.0,2372.0 731.8,2405.0 741.6,2476.4 749.7,2547.8 757.8,2625.7 764.3,2684.0 770.8,2729.6 777.3,2768.6 783.8,2801.0 790.3,2817.3 799.5,2830.0 809.0,2840.0 817.0,2853.0 827.0,2856.0 835.0,2862.0 843.0,2864.5 849.8,2869.0 858.0,2873.0 858.0,2877.0" fill="url(#gyel)" stroke="#f2a900" stroke-width="5.5" stroke-linejoin="round"/>
<polyline points="866.0,2875.0 874.0,2869.0 887.0,2862.9 932.6,2862.9 939.0,2858.0 945.6,2858.0 957.0,2845.0 962.5,2845.0 970.0,2851.5 994.3,2851.5 1007.3,2840.0 1020.0,2811.0 1026.8,2806.0 1049.5,2806.0 1056.0,2801.0 1062.5,2801.0 1069.0,2794.7 1075.5,2794.7 1083.6,2780.0 1093.3,2770.3 1104.7,2746.0 1112.8,2729.7 1119.3,2725.8 1124.0,2725.8 1137.0,2714.0 1143.6,2694.0 1150.0,2681.0 1158.0,2655.0 1169.6,2619.4 1179.4,2590.0 1189.0,2551.0 1198.8,2522.0 1205.3,2510.6 1210.0,2506.4 1218.3,2483.0 1224.8,2460.0 1229.7,2444.0 1236.0,2431.0 1241.0,2408.0 1245.0,2397.0 1249.0,2393.7 1254.9,2395.3 1261.4,2401.0 1266.2,2401.0 1274.4,2393.7 1282.5,2377.5 1290.6,2375.0 1297.0,2380.7 1305.2,2397.0 1310.0,2400.0 1315.0,2392.0 1321.4,2366.0 1328.0,2330.4 1334.4,2312.5 1340.3,2306.0 1347.4,2328.8 1357.0,2359.6 1365.3,2385.6 1371.8,2410.0 1377.6,2421.3 1389.6,2408.3 1402.6,2407.7 1414.0,2419.7 1420.5,2444.0 1427.0,2476.5 1433.4,2505.7 1440.0,2525.2 1446.4,2535.6 1451.3,2538.8 1457.8,2538.8 1466.0,2549.5 1470.8,2559.3 1477.3,2586.9 1483.8,2619.4 1490.3,2648.6 1500.0,2668.0 1506.5,2676.2 1513.0,2677.0 1529.2,2692.4 1542.2,2705.4 1550.3,2720.0 1558.4,2737.9 1563.3,2746.0 1578.0,2760.6 1591.0,2773.6 1595.8,2776.0 1600.6,2776.0 1606.4,2782.3 1612.7,2795.0 1622.8,2806.4 1630.4,2807.6 1638.0,2814.0 1644.3,2814.0 1650.6,2820.3 1657.0,2820.3 1663.3,2825.4 1669.6,2825.9 1684.8,2843.0 1691.0,2844.4 1698.8,2851.2 1710.0,2851.2 1717.7,2844.4 1722.8,2844.4 1741.8,2863.9 1754.5,2863.9 1762.0,2870.4 1768.0,2876.0 1888.0,2876.0 1892.0,2869.0 1897.0,2869.0 1898.0,2876.0" fill="none" stroke="#cc00ff" stroke-width="6.9" stroke-linejoin="round" stroke-linecap="round"/>
<polyline points="848.0,2873.0 854.7,2867.7 866.0,2867.7 872.5,2862.9 879.0,2862.0 893.6,2848.0 908.0,2833.6 919.6,2833.6 927.7,2841.8 934.0,2845.0 944.0,2845.0 957.0,2833.6 963.4,2814.0 970.0,2801.0 981.3,2789.8 994.3,2790.5 1007.3,2776.8 1013.8,2776.8 1021.9,2768.7 1026.8,2759.0 1033.0,2737.9 1039.7,2724.9 1044.6,2720.0 1056.0,2720.0 1063.0,2727.0 1073.8,2716.8 1080.3,2703.8 1086.8,2684.3 1093.3,2669.7 1099.8,2648.6 1106.3,2630.7 1117.7,2608.0 1129.0,2583.6 1136.5,2569.0 1142.0,2538.2 1148.5,2505.7 1154.0,2481.4 1161.5,2474.9 1168.0,2482.3 1174.5,2481.4 1182.6,2452.0 1190.7,2414.8 1198.8,2400.0 1205.3,2379.0 1210.0,2362.9 1216.7,2362.2 1223.0,2375.8 1229.7,2382.3 1241.0,2370.0 1247.5,2375.8 1257.3,2367.7 1266.3,2356.4 1274.4,2369.4 1280.8,2380.7 1289.0,2390.5 1293.8,2401.8 1298.0,2414.0 1303.6,2414.0 1315.0,2401.8 1322.0,2401.0 1328.0,2414.8 1334.4,2432.7 1341.0,2447.3 1347.4,2466.8 1353.2,2483.6 1358.8,2490.0 1365.3,2501.8 1373.4,2511.6 1381.5,2526.8 1389.6,2544.7 1394.5,2565.8 1401.0,2586.9 1409.0,2606.4 1415.0,2622.6 1420.5,2628.0 1427.0,2619.4 1432.5,2619.4 1444.8,2632.3 1451.3,2645.3 1459.4,2651.8 1470.8,2676.0 1477.3,2697.3 1487.0,2716.8 1495.8,2734.6 1514.6,2734.0 1520.0,2739.5 1526.0,2757.3 1532.5,2772.0 1543.8,2782.7 1550.3,2782.7 1569.8,2801.0 1576.3,2801.0 1605.5,2830.4 1612.0,2830.4 1625.0,2843.4 1631.5,2843.4 1638.0,2850.5 1667.2,2850.5 1673.7,2856.5 1680.2,2858.0 1692.4,2869.5 1711.4,2869.5 1717.5,2876.0 1770.0,2876.0 1774.0,2870.0 1781.0,2870.0 1785.0,2876.0 1880.0,2876.0 1884.0,2869.7 1891.0,2869.7 1894.0,2876.0" fill="none" stroke="#00aa00" stroke-width="6.9" stroke-linejoin="round" stroke-linecap="round"/>
<polyline points="321.5,1605.0 323.0,1863.5 326.0,2021.5 330.0,2211.5 334.0,2351.5 337.3,2481.5 340.6,2611.5 345.5,2708.5 348.0,2741.5 351.3,2763.5 356.8,2764.5 363.3,2757.5 370.0,2744.5 376.3,2721.5 386.0,2702.5 394.0,2692.5 400.6,2681.0 407.0,2674.5 413.6,2656.5 420.0,2627.5 426.0,2611.5 430.0,2585.5 438.0,2552.5 449.3,2520.5 459.0,2499.5 469.0,2471.5 475.3,2439.1 480.0,2400.2 483.4,2371.5 491.6,2319.5 502.0,2228.5 511.0,2163.5 518.0,2124.5 524.0,2066.5 530.5,2007.5 537.0,1962.5 542.0,1929.5 548.4,1911.1 556.5,1921.5 561.0,1931.5 567.0,1931.5 574.0,1922.5 580.0,1923.5 584.0,1944.5 589.0,1975.5 592.0,2001.5 599.0,2030.5 607.0,2059.5 612.0,2085.5 617.5,2131.5 621.0,2183.5 626.0,2235.5 629.5,2293.5 634.0,2371.5 637.7,2416.5 644.0,2487.5 649.0,2539.5 654.0,2578.5 660.4,2614.5 667.0,2637.2 676.6,2689.2 689.6,2741.1 702.6,2789.5 710.7,2822.3 715.6,2835.3 722.0,2841.5 728.6,2856.5 736.7,2858.0 743.0,2864.5 749.7,2859.5 756.0,2856.5 764.3,2857.0 770.8,2862.5 777.0,2864.5 783.8,2869.5 800.0,2873.0 887.0,2874.0 892.0,2869.0 915.0,2869.0 921.0,2874.0 966.0,2874.0 973.0,2869.0 980.0,2874.0 1898.0,2875.0" fill="none" stroke="#000" stroke-width="5.7" stroke-linejoin="round" stroke-linecap="round"/>
<line x1="321" y1="2875.5" x2="1898" y2="2875.5" stroke="#000" stroke-width="7"/>
<g stroke="#000" stroke-linecap="round" fill="none">
<line x1="287" y1="1616.9" x2="321.0" y2="1616.9" stroke-width="6.6"/>
<line x1="287" y1="1744.4" x2="321.0" y2="1744.4" stroke-width="6.6"/>
<line x1="287" y1="1872.8" x2="321.0" y2="1872.8" stroke-width="6.6"/>
<line x1="287" y1="1988.3" x2="321.0" y2="1988.3" stroke-width="6.6"/>
<line x1="287" y1="2115.1" x2="321.0" y2="2115.1" stroke-width="6.6"/>
<line x1="287" y1="2243.1" x2="321.0" y2="2243.1" stroke-width="6.6"/>
<line x1="287" y1="2370.8" x2="321.0" y2="2370.8" stroke-width="6.6"/>
<line x1="287" y1="2498.8" x2="321.0" y2="2498.8" stroke-width="6.6"/>
<line x1="287" y1="2614.3" x2="321.0" y2="2614.3" stroke-width="6.6"/>
<line x1="287" y1="2741.8" x2="321.0" y2="2741.8" stroke-width="6.6"/>
<line x1="287" y1="2869.3" x2="321.0" y2="2869.3" stroke-width="6.6"/>
<line x1="303" y1="1674.7" x2="321.0" y2="1674.7" stroke-width="6.6"/>
<line x1="303" y1="1802.7" x2="321.0" y2="1802.7" stroke-width="6.6"/>
<line x1="303" y1="1930.1" x2="321.0" y2="1930.1" stroke-width="6.6"/>
<line x1="303" y1="2057.6" x2="321.0" y2="2057.6" stroke-width="6.6"/>
<line x1="303" y1="2185.1" x2="321.0" y2="2185.1" stroke-width="6.6"/>
<line x1="303" y1="2301.3" x2="321.0" y2="2301.3" stroke-width="6.6"/>
<line x1="303" y1="2428.8" x2="321.0" y2="2428.8" stroke-width="6.6"/>
<line x1="303" y1="2556.3" x2="321.0" y2="2556.3" stroke-width="6.6"/>
<line x1="303" y1="2683.8" x2="321.0" y2="2683.8" stroke-width="6.6"/>
<line x1="303" y1="2811.3" x2="321.0" y2="2811.3" stroke-width="6.6"/>
<line x1="328.6" y1="2880.6" x2="328.6" y2="2914.6" stroke-width="6.4"/>
<line x1="644.8" y1="2880.6" x2="644.8" y2="2914.6" stroke-width="6.4"/>
<line x1="962" y1="2880.6" x2="962" y2="2914.6" stroke-width="6.4"/>
<line x1="1269.7" y1="2880.6" x2="1269.7" y2="2914.6" stroke-width="6.4"/>
<line x1="1587.7" y1="2880.6" x2="1587.7" y2="2914.6" stroke-width="6.4"/>
<line x1="1902.8" y1="2880.6" x2="1902.8" y2="2914.6" stroke-width="6.4"/>
<line x1="422.4" y1="2880.6" x2="422.4" y2="2899.1" stroke-width="6.4"/>
<line x1="482.5" y1="2880.6" x2="482.5" y2="2899.1" stroke-width="6.4"/>
<line x1="516.9" y1="2880.6" x2="516.9" y2="2899.1" stroke-width="6.4"/>
<line x1="550.6" y1="2880.6" x2="550.6" y2="2899.1" stroke-width="6.4"/>
<line x1="576" y1="2880.6" x2="576" y2="2899.1" stroke-width="6.4"/>
<line x1="593.8" y1="2880.6" x2="593.8" y2="2899.1" stroke-width="6.4"/>
<line x1="611" y1="2880.6" x2="611" y2="2899.1" stroke-width="6.4"/>
<line x1="628" y1="2880.6" x2="628" y2="2899.1" stroke-width="6.4"/>
<line x1="739" y1="2880.6" x2="739" y2="2899.1" stroke-width="6.4"/>
<line x1="790.3" y1="2880.6" x2="790.3" y2="2899.1" stroke-width="6.4"/>
<line x1="833.6" y1="2880.6" x2="833.6" y2="2899.1" stroke-width="6.4"/>
<line x1="867.7" y1="2880.6" x2="867.7" y2="2899.1" stroke-width="6.4"/>
<line x1="884.5" y1="2880.6" x2="884.5" y2="2899.1" stroke-width="6.4"/>
<line x1="910.5" y1="2880.6" x2="910.5" y2="2899.1" stroke-width="6.4"/>
<line x1="927.7" y1="2880.6" x2="927.7" y2="2899.1" stroke-width="6.4"/>
<line x1="945" y1="2880.6" x2="945" y2="2899.1" stroke-width="6.4"/>
<line x1="1056.3" y1="2880.6" x2="1056.3" y2="2899.1" stroke-width="6.4"/>
<line x1="1107.5" y1="2880.6" x2="1107.5" y2="2899.1" stroke-width="6.4"/>
<line x1="1149.9" y1="2880.6" x2="1149.9" y2="2899.1" stroke-width="6.4"/>
<line x1="1176" y1="2880.6" x2="1176" y2="2899.1" stroke-width="6.4"/>
<line x1="1201" y1="2880.6" x2="1201" y2="2899.1" stroke-width="6.4"/>
<line x1="1227.3" y1="2880.6" x2="1227.3" y2="2899.1" stroke-width="6.4"/>
<line x1="1244.8" y1="2880.6" x2="1244.8" y2="2899.1" stroke-width="6.4"/>
<line x1="1262.4" y1="2880.6" x2="1262.4" y2="2899.1" stroke-width="6.4"/>
<line x1="1363" y1="2880.6" x2="1363" y2="2899.1" stroke-width="6.4"/>
<line x1="1423.7" y1="2880.6" x2="1423.7" y2="2899.1" stroke-width="6.4"/>
<line x1="1467" y1="2880.6" x2="1467" y2="2899.1" stroke-width="6.4"/>
<line x1="1492" y1="2880.6" x2="1492" y2="2899.1" stroke-width="6.4"/>
<line x1="1518" y1="2880.6" x2="1518" y2="2899.1" stroke-width="6.4"/>
<line x1="1535" y1="2880.6" x2="1535" y2="2899.1" stroke-width="6.4"/>
<line x1="1561" y1="2880.6" x2="1561" y2="2899.1" stroke-width="6.4"/>
<line x1="1578" y1="2880.6" x2="1578" y2="2899.1" stroke-width="6.4"/>
<line x1="1680.5" y1="2880.6" x2="1680.5" y2="2899.1" stroke-width="6.4"/>
<line x1="1740.5" y1="2880.6" x2="1740.5" y2="2899.1" stroke-width="6.4"/>
<line x1="1774.7" y1="2880.6" x2="1774.7" y2="2899.1" stroke-width="6.4"/>
<line x1="1808.5" y1="2880.6" x2="1808.5" y2="2899.1" stroke-width="6.4"/>
<line x1="1834.7" y1="2880.6" x2="1834.7" y2="2899.1" stroke-width="6.4"/>
<line x1="1851" y1="2880.6" x2="1851" y2="2899.1" stroke-width="6.4"/>
<line x1="1869" y1="2880.6" x2="1869" y2="2899.1" stroke-width="6.4"/>
<line x1="1886" y1="2880.6" x2="1886" y2="2899.1" stroke-width="6.4"/>
</g>
<rect x="321.0" y="1604.2" width="1590.3" height="1276.4" fill="none" stroke="#000" stroke-width="6.6" stroke-linejoin="round"/>
<line x1="321.0" y1="1604.2" x2="321.0" y2="2880.6" stroke="#000" stroke-width="7.0" stroke-linecap="round"/>
<line x1="1911.3" y1="1604.2" x2="1911.3" y2="2880.6" stroke="#000" stroke-width="7.0" stroke-linecap="round"/>
<text x="325.6" y="2988.3" font-size="66.8" text-anchor="middle">10</text>
<text x="362.8" y="2945.9" font-size="49">0</text>
<text x="641.8" y="2988.3" font-size="66.8" text-anchor="middle">10</text>
<text x="682.5" y="2945.9" font-size="49">1</text>
<text x="959.0" y="2988.3" font-size="66.8" text-anchor="middle">10</text>
<text x="996.2" y="2945.9" font-size="49">2</text>
<text x="1266.7" y="2988.3" font-size="66.8" text-anchor="middle">10</text>
<text x="1303.9" y="2945.9" font-size="49">3</text>
<text x="1584.7" y="2988.3" font-size="66.8" text-anchor="middle">10</text>
<text x="1621.9" y="2945.9" font-size="49">4</text>
<text x="1899.8" y="2988.3" font-size="66.8" text-anchor="middle">10</text>
<text x="1937.0" y="2945.9" font-size="49">5</text>
<text transform="translate(274.5,2874.8) rotate(-90)" font-size="66.8" text-anchor="middle">0</text>
<text transform="translate(274.5,2615.0) rotate(-90)" font-size="66.8" text-anchor="middle">40</text>
<text transform="translate(274.5,2369.3) rotate(-90)" font-size="66.8" text-anchor="middle">80</text>
<text transform="translate(274.5,2120.8) rotate(-90)" font-size="66.8" text-anchor="middle">120</text>
<text transform="translate(274.5,1744.8) rotate(-90)" font-size="66.8" text-anchor="middle">180</text>
<text transform="translate(148,2303.3) rotate(-90)" font-size="66.8" text-anchor="middle">Count</text>
<text x="636.3" y="3070.8" font-size="67.1">Phosphorescence (RED-B-HLog)</text>
<line x1="780.5" y1="1666.7" x2="875" y2="1666.7" stroke="#000" stroke-width="6.5"/>
<rect x="783.5" y="1748" width="88.5" height="24.5" fill="#fffcbe" stroke="#f2a900" stroke-width="6.5"/>
<line x1="780.5" y1="1854.5" x2="875" y2="1854.5" stroke="#00aa00" stroke-width="6.5"/>
<line x1="780.5" y1="1947.3" x2="875" y2="1947.3" stroke="#cc00ff" stroke-width="6.5"/>
<text x="904.7" y="1692" font-size="66.8">Unstained A549-EVs</text>
<text x="910" y="1786.7" font-size="66.8">Annexin V-A549-EVs</text>
<text x="904.7" y="1877.9" font-size="66.8">Rubb<tspan font-size="42" dy="12">7</tspan><tspan dy="-12">-TL-Annexin V-A549-EVs</tspan></text>
<text x="904.7" y="1970.6" font-size="66.8">Rubb<tspan font-size="42" dy="12">7</tspan><tspan dy="-12">-TNL-Annexin V-A549-EVs</tspan></text>
<text x="30" y="1651" font-size="68" font-weight="bold">b.</text>
</g>
</svg></body></html>
